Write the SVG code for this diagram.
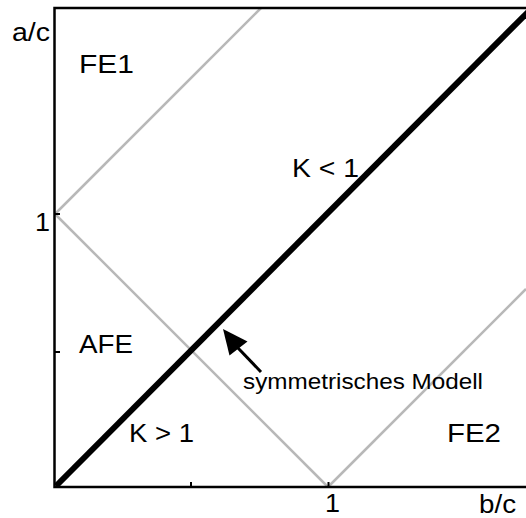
<svg xmlns="http://www.w3.org/2000/svg" width="526" height="518" viewBox="0 0 526 518">
<style>
.t{font-family:"Liberation Sans",Arial,sans-serif;font-size:26px;fill:#000}
.s{font-family:"Liberation Sans",Arial,sans-serif;font-size:22px;fill:#000}
.g{stroke:#b8b8b8;stroke-width:2.5;fill:none}
.ax{stroke:#000;stroke-width:2.5;fill:none}
.tk{stroke:#000;stroke-width:2;fill:none}
</style>
<rect width="526" height="518" fill="#fff"/>
<g id="connectors">
<line class="g" x1="55" y1="214" x2="261" y2="8"/>
<line class="g" x1="55" y1="214" x2="328" y2="487"/>
<line class="g" x1="328" y1="487" x2="526" y2="289"/>
<line x1="56" y1="486" x2="528" y2="12" stroke="#000" stroke-width="6"/>
<g id="arrow">
<line x1="261" y1="372" x2="238" y2="348" stroke="#000" stroke-width="3"/>
<polygon points="223,329 229.5,355.5 247.5,341.5" fill="#000"/>
</g>
</g>
<g id="axes">
<polyline class="ax" points="526,8 54.5,8 54.5,487 526,487"/>
<line class="tk" x1="55" y1="214" x2="60" y2="214"/>
<line class="tk" x1="55" y1="352" x2="60" y2="352"/>
<line class="tk" x1="191" y1="487" x2="191" y2="482"/>
<line class="tk" x1="328.5" y1="487" x2="328.5" y2="482"/>
</g>
<g id="labels">
<text class="t" x="12" y="41" textLength="38" lengthAdjust="spacingAndGlyphs">a/c</text>
<text class="t" x="35" y="231" textLength="15" lengthAdjust="spacingAndGlyphs">1</text>
<text class="t" x="325" y="512" textLength="15" lengthAdjust="spacingAndGlyphs">1</text>
<text class="t" x="479" y="513" textLength="37" lengthAdjust="spacingAndGlyphs">b/c</text>
</g>
<g id="FE1"><text class="t" x="79" y="73" textLength="55" lengthAdjust="spacingAndGlyphs">FE1</text></g>
<g id="K_lt_1"><text class="t" x="292" y="177" textLength="67" lengthAdjust="spacingAndGlyphs">K &lt; 1</text></g>
<g id="AFE"><text class="t" x="79" y="353" textLength="54" lengthAdjust="spacingAndGlyphs">AFE</text></g>
<g id="symm"><text class="s" x="243" y="389" textLength="240" lengthAdjust="spacingAndGlyphs">symmetrisches Modell</text></g>
<g id="K_gt_1"><text class="t" x="129" y="442" textLength="65" lengthAdjust="spacingAndGlyphs">K &gt; 1</text></g>
<g id="FE2"><text class="t" x="447" y="442" textLength="54" lengthAdjust="spacingAndGlyphs">FE2</text></g>
</svg>
